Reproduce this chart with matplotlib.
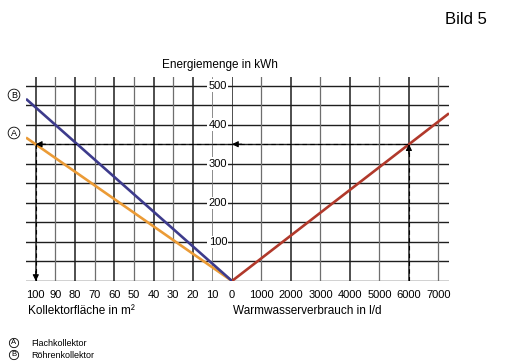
import matplotlib.pyplot as plt

plt.rcParams['font.family'] = ['Liberation Sans', 'DejaVu Sans']

# Werte
flaeche_ticks = [100, 90, 80, 70, 60, 50, 40, 30, 20, 10, 0]
verbrauch_ticks = [0, 1000, 2000, 3000, 4000, 5000, 6000, 7000]
energie_ticks = [100, 200, 300, 400, 500]
energie_grid = [0, 50, 100, 150, 200, 250, 300, 350, 400, 450, 500]

kollektor_flaeche = [0, 105]
energie_flach = [0, 367]        # A  Flachkollektor
energie_roehren = [0, 466]      # B  Röhrenkollektor
verbrauch = [0, 7360]
energie_verbrauch = [0, 429]

# Ablesebeispiel
bsp_verbrauch = 6000
bsp_energie = 350
bsp_flaeche = 100

c_flach = '#eb9b36'
c_roehren = '#3d3b8c'
c_verbrauch = '#b1392b'

fig = plt.figure(figsize=(5.06, 3.64), dpi=100)
ax_l = fig.add_axes([26/506, 1 - 281/364, 206/506, 204/364])
ax_r = fig.add_axes([232/506, 1 - 281/364, 217/506, 204/364])

ax_l.set_xlim(105, 0)
ax_r.set_xlim(0, 7360)
for ax in (ax_l, ax_r):
    ax.set_ylim(0, 522)
    for s in ax.spines.values():
        s.set_visible(False)
    ax.set_yticks([])
    ax.tick_params(axis='x', length=0, pad=6.5, labelsize=8)
    for y in energie_grid:
        ax.axhline(y, color='#1e1e1e', lw=1.0, zorder=1)

# vertikale Gitterlinien, abwechselnd dunkel/hell
for i, x in enumerate(flaeche_ticks):
    if x == 0:
        continue
    if x == 10:
        ax_l.axvline(x, color='#777777', lw=0.6, zorder=1)
    elif i % 2 == 0:
        ax_l.axvline(x, color='#1e1e1e', lw=1.1, zorder=1)
    else:
        ax_l.axvline(x, color='#6e6e6e', lw=0.9, zorder=1)
for i, x in enumerate(verbrauch_ticks):
    if i % 2 == 0:
        ax_r.axvline(x, color='#1e1e1e', lw=1.1, zorder=1)
    else:
        ax_r.axvline(x, color='#6e6e6e', lw=0.9, zorder=1)

ax_l.set_xticks(flaeche_ticks)
ax_l.set_xticklabels([str(v) for v in flaeche_ticks])
ax_r.set_xticks(verbrauch_ticks[1:])
ax_r.set_xticklabels([str(v) for v in verbrauch_ticks[1:]])

# Energie-Beschriftung in der Mitte
for y in energie_ticks:
    ax_l.text(7.2, y, str(y), ha='center', va='center', fontsize=8, zorder=3,
              bbox=dict(facecolor='white', edgecolor='none', pad=1.0))

# Kennlinien
ax_l.plot(kollektor_flaeche, energie_flach, color=c_flach, lw=1.9, zorder=4, solid_capstyle='butt')
ax_l.plot(kollektor_flaeche, energie_roehren, color=c_roehren, lw=1.9, zorder=4, solid_capstyle='butt')
ax_r.plot(verbrauch, energie_verbrauch, color=c_verbrauch, lw=1.9, zorder=4, solid_capstyle='butt')

# Ablesebeispiel (gestrichelt)
dash = dict(color='black', lw=0.8, ls=(0, (4, 3)), zorder=5)
ax_r.plot([bsp_verbrauch, bsp_verbrauch], [0, bsp_energie], **dash)
ax_r.plot([0, bsp_verbrauch], [bsp_energie, bsp_energie], **dash)
ax_l.plot([0, bsp_flaeche], [bsp_energie, bsp_energie], **dash)
ax_l.plot([bsp_flaeche, bsp_flaeche], [bsp_energie, 0], **dash)

arrow = dict(arrowstyle='-|>', color='black', lw=0.8, mutation_scale=9, shrinkA=0, shrinkB=0)
ax_r.annotate('', xy=(bsp_verbrauch, bsp_energie), xytext=(0, -7), textcoords='offset points',
              arrowprops=arrow, zorder=6)
ax_r.annotate('', xy=(0, bsp_energie), xytext=(7, 0), textcoords='offset points',
              arrowprops=arrow, zorder=6)
ax_l.annotate('', xy=(bsp_flaeche, bsp_energie), xytext=(7, 0), textcoords='offset points',
              arrowprops=arrow, zorder=6)
ax_l.annotate('', xy=(bsp_flaeche, 0), xytext=(0, 7), textcoords='offset points',
              arrowprops=arrow, zorder=6)

circ = dict(boxstyle='circle,pad=0.15', facecolor='white', edgecolor='black', lw=0.6)
fig.text(14/506, 1 - 95/364, 'B', ha='center', va='center', fontsize=6.5, bbox=circ)
fig.text(14/506, 1 - 133/364, 'A', ha='center', va='center', fontsize=6.5, bbox=circ)

# Achsentitel
fig.text(220/506, 1 - 65/364, 'Energiemenge in kWh', ha='center', va='center', fontsize=8.5)
fig.text(28/506, 1 - 311/364, 'Kollektorfläche in m²', ha='left', va='center', fontsize=8.5)
fig.text(233/506, 1 - 311/364, 'Warmwasserverbrauch in l/d', ha='left', va='center', fontsize=8.5)
fig.text(487/506, 1 - 19/364, 'Bild 5', ha='right', va='center', fontsize=12)

# Legende
fig.text(14/506, 1 - 343/364, 'A', ha='center', va='center', fontsize=5.5, bbox=circ)
fig.text(14/506, 1 - 355/364, 'B', ha='center', va='center', fontsize=5.5, bbox=circ)
fig.text(31/506, 1 - 343/364, 'Flachkollektor', ha='left', va='center', fontsize=6.5)
fig.text(31/506, 1 - 355/364, 'Röhrenkollektor', ha='left', va='center', fontsize=6.5)

fig.savefig('out.png', dpi=100)
